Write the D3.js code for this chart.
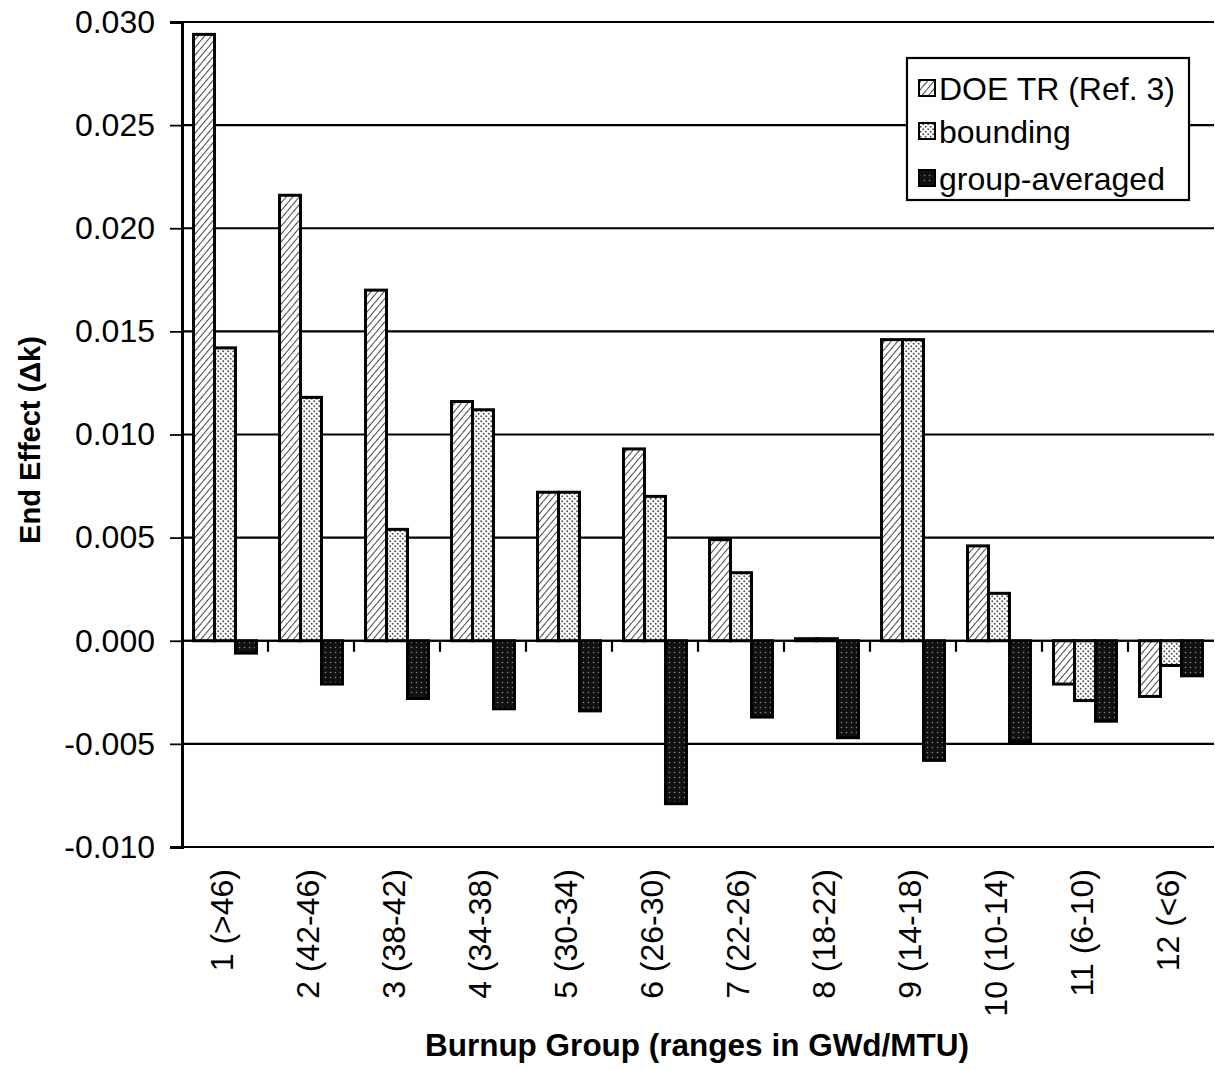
<!DOCTYPE html>
<html>
<head>
<meta charset="utf-8">
<script src="https://cdn.jsdelivr.net/npm/d3@7"></script>
<style>
  html, body { margin: 0; padding: 0; background: #fff; }
  svg { display: block; font-family: "Liberation Sans", Arial, Helvetica, sans-serif; }
</style>
</head>
<body>
<svg id="chart" width="1215" height="1070"></svg>
<script>
const categories = ["1 (>46)", "2 (42-46)", "3 (38-42)", "4 (34-38)", "5 (30-34)", "6 (26-30)",
                    "7 (22-26)", "8 (18-22)", "9 (14-18)", "10 (10-14)", "11 (6-10)", "12 (<6)"];
const seriesNames = ["DOE TR (Ref. 3)", "bounding", "group-averaged"];
const doeTR        = [0.0294, 0.0216, 0.0170, 0.0116, 0.0072, 0.0093, 0.0049, 0.0001, 0.0146, 0.0046, -0.0021, -0.0027];
const bounding     = [0.0142, 0.0118, 0.0054, 0.0112, 0.0072, 0.0070, 0.0033, 0.0001, 0.0146, 0.0023, -0.0029, -0.0012];
const groupAveraged= [-0.0006, -0.0021, -0.0028, -0.0033, -0.0034, -0.0079, -0.0037, -0.0047, -0.0058, -0.0049, -0.0039, -0.0017];
const yTicks = [-0.010, -0.005, 0.000, 0.005, 0.010, 0.015, 0.020, 0.025, 0.030];
const yTitle = "End Effect (\u0394k)";
const xTitle = "Burnup Group (ranges in GWd/MTU)";

(function () {
const seriesValues = [doeTR, bounding, groupAveraged];
const patternIds = ["pat-doe", "pat-bound", "pat-avg"];

const svg = d3.select("#chart");
const defs = svg.append("defs");

// hatched pattern (DOE TR)
const p1 = defs.append("pattern").attr("id", "pat-doe").attr("patternUnits", "userSpaceOnUse")
  .attr("width", 5).attr("height", 5).attr("patternTransform", "rotate(40)");
p1.append("rect").attr("width", 5).attr("height", 5).attr("fill", "#fff");
p1.append("line").attr("x1", 0).attr("y1", 0).attr("x2", 0).attr("y2", 5)
  .attr("stroke", "#333").attr("stroke-width", 1.8);

// dotted pattern (bounding)
const p2 = defs.append("pattern").attr("id", "pat-bound").attr("patternUnits", "userSpaceOnUse")
  .attr("width", 5).attr("height", 5);
p2.append("rect").attr("width", 5).attr("height", 5).attr("fill", "#fff");
p2.append("circle").attr("cx", 1.2).attr("cy", 1.2).attr("r", 1.0).attr("fill", "#555");
p2.append("circle").attr("cx", 3.7).attr("cy", 3.7).attr("r", 1.0).attr("fill", "#555");

// dark pattern (group-averaged)
const p3 = defs.append("pattern").attr("id", "pat-avg").attr("patternUnits", "userSpaceOnUse")
  .attr("width", 5).attr("height", 5);
p3.append("rect").attr("width", 5).attr("height", 5).attr("fill", "#111");
p3.append("circle").attr("cx", 2.5).attr("cy", 2.5).attr("r", 0.8).attr("fill", "#888");

const pLeft = 182, pRight = 1214, pTop = 22, pBottom = 847;

const x0 = d3.scaleBand().domain(categories).range([pLeft, pRight]).paddingInner(0).paddingOuter(0);
const bw = x0.bandwidth();
const x1 = d3.scaleBand().domain(seriesNames).range([bw * 0.134, bw * 0.866]).padding(0);
const y = d3.scaleLinear().domain([-0.010, 0.030]).range([pBottom, pTop]);

// gridlines
svg.append("g").selectAll("line").data(yTicks).join("line")
  .attr("x1", pLeft).attr("x2", pRight)
  .attr("y1", d => y(d)).attr("y2", d => y(d))
  .attr("stroke", "#000").attr("stroke-width", 2.2);

// y axis
const yAxis = d3.axisLeft(y).tickValues(yTicks).tickFormat(d3.format(".3f")).tickSize(12).tickPadding(15);
const gy = svg.append("g").attr("transform", `translate(${pLeft},0)`).call(yAxis);
gy.select(".domain").attr("stroke", "#000").attr("stroke-width", 3);
gy.selectAll(".tick line").attr("stroke", "#000").attr("stroke-width", 1.8);
gy.selectAll(".tick text").attr("font-size", 32).attr("fill", "#000")
  .attr("font-family", "'Liberation Sans', Arial, sans-serif")
  .text(d => d < 0 ? "-" + d3.format(".3f")(-d) : d3.format(".3f")(d));

// bars
const groups = svg.append("g").selectAll("g").data(categories).join("g")
  .attr("transform", d => `translate(${x0(d)},0)`);
groups.selectAll("rect").data((d, i) => seriesNames.map((s, k) => ({ s, k, v: seriesValues[k][i] })))
  .join("rect")
  .attr("x", d => x1(d.s))
  .attr("width", x1.bandwidth())
  .attr("y", d => Math.min(y(d.v), y(0)))
  .attr("height", d => Math.max(Math.abs(y(d.v) - y(0)), 1.5))
  .attr("fill", d => `url(#${patternIds[d.k]})`)
  .attr("stroke", "#000").attr("stroke-width", 3);

// zero line with category ticks
svg.append("line").attr("x1", pLeft).attr("x2", pRight).attr("y1", y(0)).attr("y2", y(0))
  .attr("stroke", "#000").attr("stroke-width", 2.2);
svg.append("g").selectAll("line").data(categories.slice(1)).join("line")
  .attr("x1", d => x0(d)).attr("x2", d => x0(d))
  .attr("y1", y(0)).attr("y2", y(0) + 11)
  .attr("stroke", "#000").attr("stroke-width", 2.2);

// category labels (rotated)
svg.append("g").selectAll("text").data(categories).join("text")
  .attr("transform", d => `translate(${x0(d) + bw / 2 + 8},869) rotate(-90)`)
  .attr("text-anchor", "end")
  .attr("font-size", 32)
  .text(d => d);

// axis titles
svg.append("text")
  .attr("transform", `translate(40,440) rotate(-90)`)
  .attr("text-anchor", "middle").attr("font-weight", "bold").attr("font-size", 29)
  .text(yTitle);
svg.append("text")
  .attr("x", 697).attr("y", 1056)
  .attr("text-anchor", "middle").attr("font-weight", "bold").attr("font-size", 31.5)
  .text(xTitle);

// legend
const lg = svg.append("g").attr("transform", "translate(907,58)");
lg.append("rect").attr("width", 282).attr("height", 142).attr("fill", "#fff")
  .attr("stroke", "#000").attr("stroke-width", 2.2);
const rowsY = [30, 73, 120];
seriesNames.forEach((s, k) => {
  lg.append("rect").attr("x", 12).attr("y", rowsY[k] - 8).attr("width", 16).attr("height", 16)
    .attr("fill", `url(#${patternIds[k]})`).attr("stroke", "#000").attr("stroke-width", 2);
  lg.append("text").attr("x", 32).attr("y", rowsY[k]).attr("dy", "0.36em")
    .attr("font-size", 32).text(s);
});
})();
</script>
</body>
</html>
